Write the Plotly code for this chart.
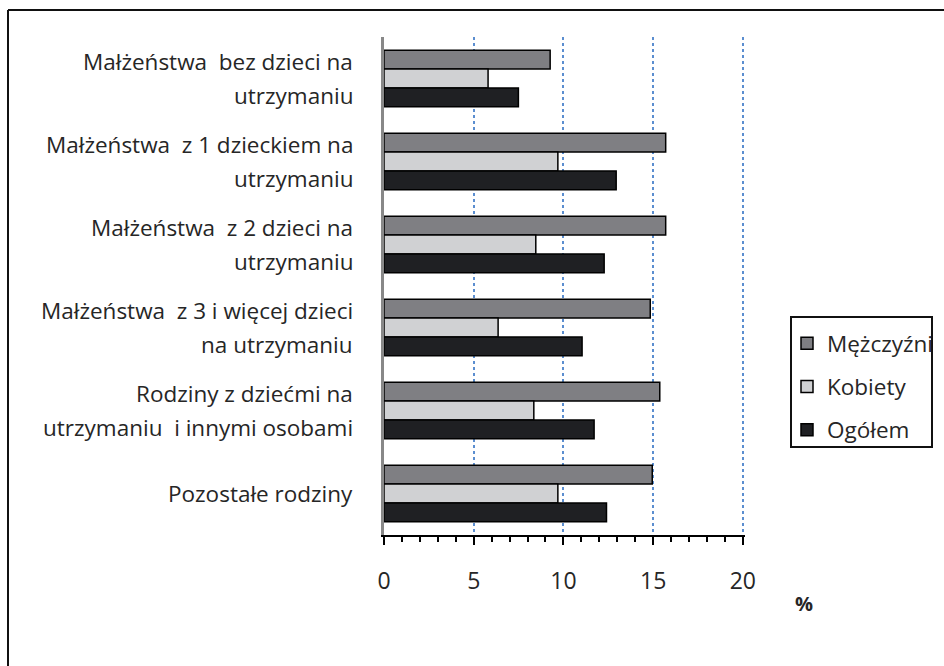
import plotly.graph_objects as go

categories = [
    "Małżeństwa  bez dzieci na\nutrzymaniu",
    "Małżeństwa  z 1 dzieckiem na\nutrzymaniu",
    "Małżeństwa  z 2 dzieci na\nutrzymaniu",
    "Małżeństwa  z 3 i więcej dzieci\nna utrzymaniu",
    "Rodziny z dziećmi na\nutrzymaniu  i innymi osobami",
    "Pozostałe rodziny",
]
cat_keys = [f"c{i}" for i in range(len(categories))]

series_names = ["Mężczyźni", "Kobiety", "Ogółem"]
men = [9.26, 15.7, 15.7, 14.84, 15.37, 14.95]
women = [5.8, 9.69, 8.46, 6.36, 8.35, 9.69]
total = [7.49, 12.94, 12.27, 11.04, 11.71, 12.4]
series_values = [men, women, total]
series_colors = ["#7f7f83", "#d0d1d3", "#1f2023"]

x_ticks = [0, 5, 10, 15, 20]
x_unit = "%"

FONT = "Open Sans"
TXT = "#262626"

# plot area in pixels
W, H = 944, 666
XMAX = 20.12
L, T, B = 384, 37, 535
R = L + round(17.93 * XMAX)

fig = go.Figure()
for name, vals, col in zip(series_names, series_values, series_colors):
    fig.add_trace(go.Bar(
        y=cat_keys, x=vals, name=name, orientation="h",
        marker=dict(color=col, line=dict(color="#000000", width=1.5)),
        legendgroup=name,
    ))

pw, ph = R - L, B - T


def px_x(p):
    return (p - L) / pw


def px_y(p):
    return (B - p) / ph


annotations = []
for key, label in zip(cat_keys, categories):
    lines = label.split("\n")
    n = len(lines)
    for i, ln in enumerate(lines):
        shift = ((n - 1) / 2 - i) * 34
        annotations.append(dict(
            x=0, xref="paper", y=key, yref="y", text=ln, showarrow=False,
            xanchor="right", yanchor="middle", xshift=-29, yshift=shift,
            align="center", font=dict(family=FONT, size=22.5, color=TXT),
        ))
annotations.append(dict(
    x=px_x(804), xref="paper", y=px_y(603), yref="paper", text="<b>" + x_unit + "</b>",
    showarrow=False, xanchor="center", yanchor="middle",
    font=dict(family=FONT, size=20, color=TXT),
))

shapes = [
    dict(type="line", xref="paper", yref="paper", x0=px_x(8), x1=px_x(960), y0=px_y(10), y1=px_y(10),
         line=dict(color="#111111", width=2)),
    dict(type="line", xref="paper", yref="paper", x0=px_x(8), x1=px_x(8), y0=px_y(10), y1=px_y(680),
         line=dict(color="#111111", width=2)),
    dict(type="rect", xref="paper", yref="paper", x0=px_x(791), x1=px_x(932), y0=px_y(317), y1=px_y(447),
         line=dict(color="#111111", width=2), fillcolor="rgba(0,0,0,0)"),
]

fig.update_layout(
    width=W, height=H,
    margin=dict(l=L, r=W - R, t=T, b=H - B, pad=0, autoexpand=False),
    paper_bgcolor="white", plot_bgcolor="white",
    barmode="group", bargap=0.32, bargroupgap=0,
    font=dict(family=FONT, size=19, color=TXT),
    showlegend=True,
    legend=dict(x=px_x(787), y=px_y(322), xanchor="left", yanchor="top",
                bgcolor="rgba(0,0,0,0)", borderwidth=0, tracegroupgap=11,
                font=dict(family=FONT, size=22.5, color=TXT), itemwidth=30),
    annotations=annotations,
    shapes=shapes,
    xaxis=dict(range=[0, XMAX], tickvals=x_ticks, ticktext=[str(v) for v in x_ticks],
               showgrid=True, gridcolor="#5b8ed0", griddash="dot", gridwidth=1.5,
               showline=True, linecolor="#000000", linewidth=2,
               ticks="outside", ticklen=8, tickwidth=2, tickcolor="#000000",
               minor=dict(dtick=1, ticks="outside", ticklen=5, tickwidth=1.5, tickcolor="#000000", showgrid=False),
               tickfont=dict(family=FONT, size=23, color=TXT), ticklabelstandoff=16,
               zeroline=False, fixedrange=True),
    yaxis=dict(categoryorder="array", categoryarray=cat_keys, autorange="reversed",
               showticklabels=False, showgrid=False, zeroline=False,
               showline=True, linecolor="#888888", linewidth=3, ticks="", fixedrange=True),
)

fig.write_html("out.html", post_script="document.body.style.margin='0px';",
               config={"displayModeBar": False})
